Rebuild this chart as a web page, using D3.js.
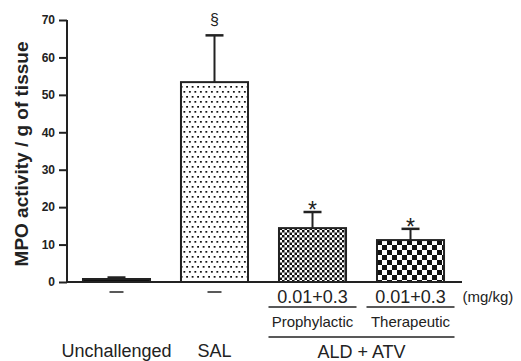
<!DOCTYPE html>
<html>
<head>
<meta charset="utf-8">
<script src="https://cdn.jsdelivr.net/npm/d3@7"></script>
<style>
  body { margin: 0; background: #fff; }
  text { font-family: "Liberation Sans", Arial, sans-serif; }
</style>
</head>
<body>
<div id="chart"></div>
<script>
// chart values
const groups = ["Unchallenged", "SAL", "Prophylactic", "Therapeutic"];
const means = [0.8, 53.4, 14.4, 11.2];
const errors = [0.4, 12.5, 4.3, 3.0];
const marks = ["", "§", "*", "*"];
const doseLabels = ["—", "—", "0.01+0.3", "0.01+0.3"];
const yTicks = [0, 10, 20, 30, 40, 50, 60, 70];
const fills = ["#111", "url(#dots)", "url(#fineCheck)", "url(#coarseCheck)"];

const margin = { top: 20, left: 67, right: 61, bottom: 79 },
  width = 521 - margin.left - margin.right,
  height = 361 - margin.top - margin.bottom;

const root = d3.select("#chart")
  .append("svg")
    .attr("width", 521)
    .attr("height", 361);

// fill patterns for the bars
const defs = root.append("defs");
const dots = defs.append("pattern")
  .attr("id", "dots").attr("patternUnits", "userSpaceOnUse")
  .attr("width", 5.5).attr("height", 10);
dots.append("rect").attr("width", 5.5).attr("height", 10).attr("fill", "#fff");
dots.append("rect").attr("x", 1).attr("y", 1).attr("width", 1.7).attr("height", 1.7).attr("fill", "#000");
dots.append("rect").attr("x", 3.75).attr("y", 6).attr("width", 1.7).attr("height", 1.7).attr("fill", "#000");

const makeCheck = (id, s) => {
  const p = defs.append("pattern")
    .attr("id", id).attr("patternUnits", "userSpaceOnUse")
    .attr("width", s * 2).attr("height", s * 2);
  p.append("rect").attr("width", s * 2).attr("height", s * 2).attr("fill", "#fff");
  p.append("rect").attr("width", s).attr("height", s).attr("fill", "#111");
  p.append("rect").attr("x", s).attr("y", s).attr("width", s).attr("height", s).attr("fill", "#111");
};
makeCheck("fineCheck", 2.5);
makeCheck("coarseCheck", 5);

const svg = root.append("g")
  .attr("transform", `translate(${margin.left},${margin.top})`);

// scales
const x = d3.scaleBand()
  .domain(groups)
  .range([0, width])
  .paddingInner(0.316)
  .paddingOuter(0.163);

const y = d3.scaleLinear()
  .domain([0, 70])
  .range([height, 0]);

// y-axis
const yAxis = svg.append("g")
  .call(d3.axisLeft(y).tickValues(yTicks).tickSize(8).tickPadding(4));
yAxis.select(".domain").attr("stroke-width", 2).attr("stroke", "#222")
  .attr("d", `M0,0V${height}`);
yAxis.selectAll(".tick line").attr("stroke-width", 2).attr("stroke", "#222");
yAxis.selectAll(".tick text")
  .style("font-size", "12px")
  .style("font-weight", "bold")
  .attr("fill", "#222");

// y-axis label
svg.append("text")
  .attr("transform", "rotate(-90)")
  .attr("x", -height / 2 - 3)
  .attr("y", -39)
  .attr("text-anchor", "middle")
  .style("font-size", "19px")
  .style("font-weight", "bold")
  .attr("fill", "#222")
  .text("MPO activity / g of tissue");

// bars
svg.selectAll(".bar")
  .data(groups)
  .join("rect")
    .attr("class", "bar")
    .attr("x", d => x(d))
    .attr("y", (d, i) => y(means[i]))
    .attr("width", x.bandwidth())
    .attr("height", (d, i) => y(0) - y(means[i]))
    .attr("fill", (d, i) => fills[i])
    .attr("stroke", "#222")
    .attr("stroke-width", 2);

// error bars
const cap = 18;
groups.forEach((g, i) => {
  const cx = x(g) + x.bandwidth() / 2;
  const top = y(means[i] + errors[i]);
  svg.append("line")
    .attr("x1", cx).attr("x2", cx)
    .attr("y1", y(means[i])).attr("y2", top)
    .attr("stroke", "#222").attr("stroke-width", 2);
  svg.append("line")
    .attr("x1", cx - cap / 2).attr("x2", cx + cap / 2)
    .attr("y1", top).attr("y2", top)
    .attr("stroke", "#222").attr("stroke-width", 2.5);
  if (marks[i]) {
    const star = marks[i] === "*";
    svg.append("text")
      .attr("x", cx)
      .attr("y", star ? top + 6 : top - 10)
      .attr("text-anchor", "middle")
      .style("font-size", star ? "23px" : "16px")
      .attr("fill", "#222")
      .text(marks[i]);
  }
});

// x-axis baseline
svg.append("line")
  .attr("x1", 0).attr("x2", width + 2)
  .attr("y1", height).attr("y2", height)
  .attr("stroke", "#222").attr("stroke-width", 2);

// dose labels
groups.forEach((g, i) => {
  const cx = x(g) + x.bandwidth() / 2;
  if (doseLabels[i] === "—") {
    svg.append("line")
      .attr("x1", cx - 7).attr("x2", cx + 7)
      .attr("y1", height + 10).attr("y2", height + 10)
      .attr("stroke", "#222").attr("stroke-width", 1.5);
  } else {
    svg.append("text")
      .attr("x", cx).attr("y", height + 21)
      .attr("text-anchor", "middle")
      .style("font-size", "18px")
      .attr("fill", "#222")
      .text(doseLabels[i]);
    svg.append("line")
      .attr("x1", cx - 44).attr("x2", cx + 44)
      .attr("y1", height + 25).attr("y2", height + 25)
      .attr("stroke", "#222").attr("stroke-width", 1.5);
    svg.append("text")
      .attr("x", cx).attr("y", height + 45)
      .attr("text-anchor", "middle")
      .style("font-size", "15px")
      .attr("fill", "#222")
      .text(g);
  }
});

// (mg/kg) unit
svg.append("text")
  .attr("x", x("Therapeutic") + x.bandwidth() / 2 + 52)
  .attr("y", height + 20)
  .style("font-size", "15px")
  .attr("fill", "#222")
  .text("(mg/kg)");

// ALD + ATV bracket
const left = x("Prophylactic") + x.bandwidth() / 2 - 44;
const right = x("Therapeutic") + x.bandwidth() / 2 + 44;
svg.append("line")
  .attr("x1", left).attr("x2", right)
  .attr("y1", height + 55).attr("y2", height + 55)
  .attr("stroke", "#222").attr("stroke-width", 1.5);
svg.append("text")
  .attr("x", (left + right) / 2).attr("y", height + 76)
  .attr("text-anchor", "middle")
  .style("font-size", "18px")
  .attr("fill", "#222")
  .text("ALD + ATV");

// group names under the first two bars
["Unchallenged", "SAL"].forEach(g => {
  svg.append("text")
    .attr("x", x(g) + x.bandwidth() / 2).attr("y", height + 75)
    .attr("text-anchor", "middle")
    .style("font-size", "18px")
    .attr("fill", "#222")
    .text(g);
});
</script>
</body>
</html>
